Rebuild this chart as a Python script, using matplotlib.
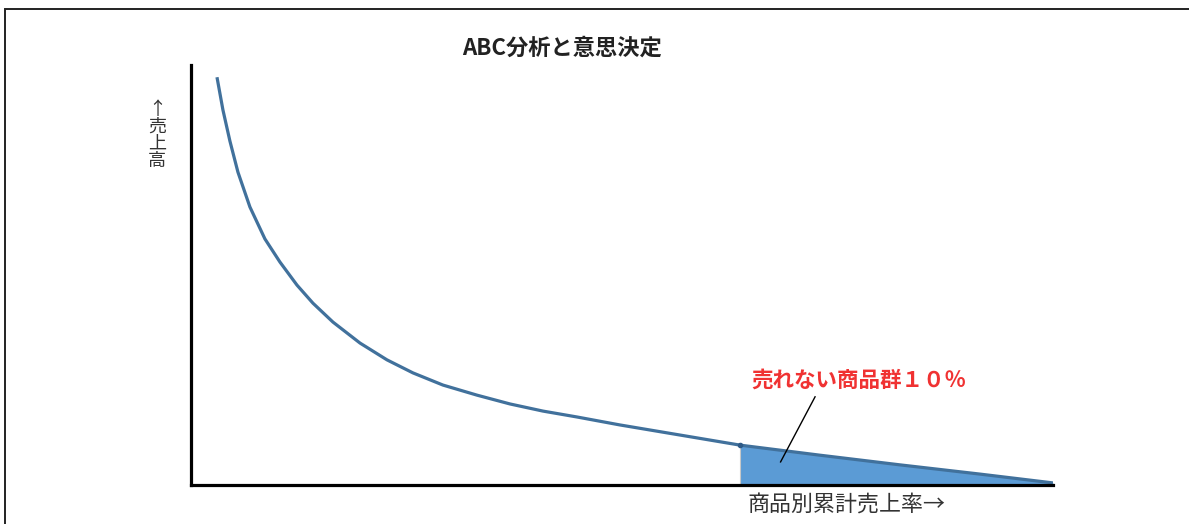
import matplotlib
matplotlib.use('Agg')
import matplotlib.pyplot as plt
from matplotlib.patches import Rectangle

plt.rcParams['font.family'] = ['Noto Sans CJK JP', 'DejaVu Sans']

# cumulative share of items (%) vs sales (relative)
share = [3.02, 3.71, 4.52, 5.45, 6.84, 8.58, 10.32, 12.30, 14.15, 16.47, 19.61,
         22.74, 25.75, 29.23, 33.18, 37.01, 40.84, 44.78, 49.77, 56.73, 63.69,
         72.97, 82.25, 91.53, 100.0]
sales = [97.1, 89.3, 81.9, 74.5, 66.2, 58.6, 53.1, 47.6, 43.3, 38.8, 33.8,
         29.8, 26.7, 23.8, 21.4, 19.3, 17.6, 16.2, 14.3, 11.9, 9.5,
         7.1, 4.8, 2.6, 0.5]
tail_start = 63.69  # last 10% group

title = 'ABC分析と意思決定'
xlabel = '商品別累計売上率→'
ylabel = '↑売上高'
note = '売れない商品群１０％'

fig = plt.figure(figsize=(11.89, 5.24), dpi=100)
ax = fig.add_axes([0.1606, 0.0744, 0.725, 0.8015])

tail_x = [x for x in share if x >= tail_start]
tail_y = [y for x, y in zip(share, sales) if x >= tail_start]
ax.fill_between(tail_x, tail_y, 0, color='#5B9BD5', linewidth=0)
ax.plot([tail_start, tail_start], [0, tail_y[0]], color='#C8C8C8', lw=0.8)
ax.plot(share, sales, color='#41719C', lw=2.3, solid_capstyle='butt',
        solid_joinstyle='round')
ax.plot([tail_start], [tail_y[0]], marker='o', ms=3, color='#2E5A87')

ax.set_xlim(0, 100)
ax.set_ylim(0, 100)
for s in ['top', 'right']:
    ax.spines[s].set_visible(False)
for s in ['left', 'bottom']:
    ax.spines[s].set_linewidth(2.3)
    ax.spines[s].set_color('black')
ax.set_xticks([])
ax.set_yticks([])

# annotation for the tail group
ax.plot([72.4, 68.4], [21.0, 5.5], color='black', lw=1.0)
ax.text(77.5, 25.0, note, color='#F03232', fontsize=15.5, fontweight='bold',
        ha='center', va='center')

fig.text(0.4727, 0.908, title, fontsize=16, fontweight='bold', color='#222222',
         ha='center', va='center')
fig.text(0.629, 0.036, xlabel, fontsize=15.8, color='#333333', ha='left', va='center')
fig.text(0.132, 0.742, '\n'.join(ylabel), fontsize=13, color='#333333',
         ha='center', va='center', linespacing=0.92)

# outer frame (open to the right and bottom)
fig.patches.append(Rectangle((5 / 1189, -0.1), 1.2, 1.1 - 9 / 524,
                             transform=fig.transFigure, fill=False,
                             edgecolor='#222222', lw=1.4))

fig.savefig('out.png', dpi=100)
